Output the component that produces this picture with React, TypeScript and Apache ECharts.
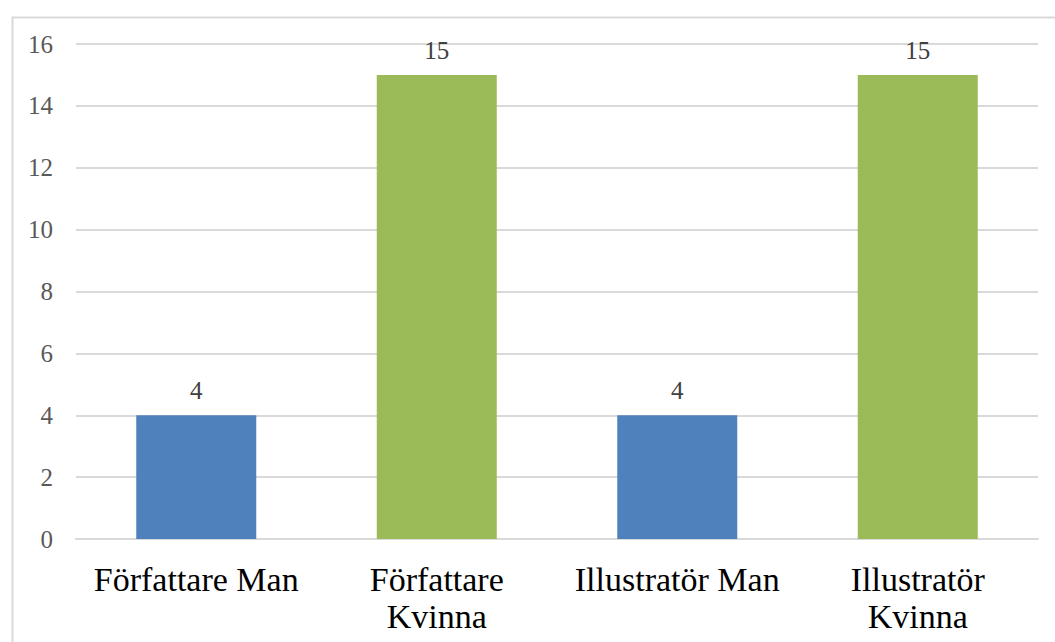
import React, { useEffect, useRef } from "react";
import * as echarts from "echarts";

const categories = ["Författare Man", "Författare\nKvinna", "Illustratör Man", "Illustratör\nKvinna"];
const values = [4, 15, 4, 15];
const barColors = ["#4F81BD", "#9BBB59", "#4F81BD", "#9BBB59"];
const yTicks = { min: 0, max: 16, interval: 2 };

export default function App() {
  const ref = useRef<HTMLDivElement>(null);
  useEffect(() => {
    if (!ref.current) return;
    const chart = echarts.init(ref.current, null, { renderer: "svg" });
    chart.setOption({
      animation: false,
      backgroundColor: "#ffffff",
      textStyle: { fontFamily: "Liberation Serif" },
      graphic: [
        {
          type: "rect",
          left: 10,
          top: 15,
          shape: { width: 1100, height: 700 },
          style: { fill: "none", stroke: "#d9d9d9", lineWidth: 2 },
          silent: true,
        },
      ],
      grid: { left: 76, right: 17, top: 44, bottom: 103 },
      xAxis: {
        type: "category",
        data: categories,
        axisLine: { show: true, lineStyle: { color: "#d9d9d9", width: 2 } },
        axisTick: { show: false },
        axisLabel: {
          color: "#000000",
          fontSize: 34,
          lineHeight: 37,
          margin: 22,
          fontFamily: "Liberation Serif",
          interval: 0,
        },
      },
      yAxis: {
        type: "value",
        min: yTicks.min,
        max: yTicks.max,
        interval: yTicks.interval,
        axisLine: { show: false },
        axisTick: { show: false },
        axisLabel: { color: "#595959", fontSize: 25, margin: 23, fontFamily: "Liberation Serif" },
        splitLine: { lineStyle: { color: "#d9d9d9", width: 2 } },
      },
      series: [
        {
          type: "bar",
          data: values.map((v, i) => ({ value: v, itemStyle: { color: barColors[i] } })),
          barWidth: 120,
          label: {
            show: true,
            position: "top",
            distance: 12,
            color: "#404040",
            fontSize: 25,
            fontFamily: "Liberation Serif",
          },
        },
      ],
    });
    return () => chart.dispose();
  }, []);
  return (
    <div
      ref={ref}
      style={{ position: "fixed", left: 0, top: 0, width: 1055, height: 642 }}
    />
  );
}
